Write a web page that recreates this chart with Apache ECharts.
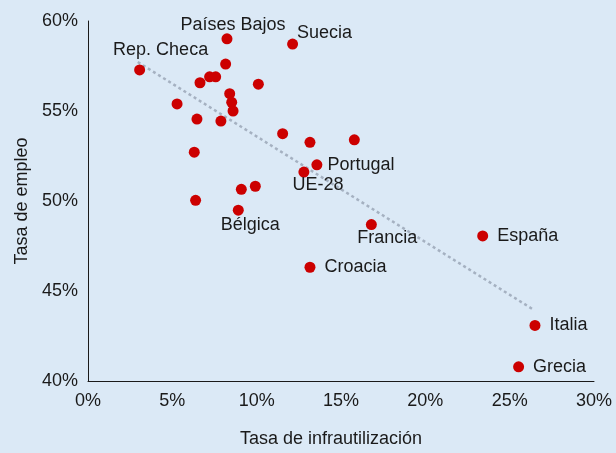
<!DOCTYPE html>
<html>
<head>
<meta charset="utf-8">
<script src="https://cdn.jsdelivr.net/npm/echarts@6/dist/echarts.min.js"></script>
<style>
html,body{margin:0;padding:0;background:#dbe9f6;}
#c{width:616px;height:453px;}
</style>
</head>
<body>
<div id="c"></div>
<script>
// Data (percent)
var countryNames = ["Rep. Checa","Países Bajos","Suecia","","","","","","","","","","","","","","","","Portugal","UE-28","","","","Bélgica","Francia","España","Croacia","Italia","Grecia"];
var underutil = [3.06,8.24,12.13,8.16,7.21,7.57,6.64,10.10,8.40,8.52,8.60,5.28,6.46,7.88,11.54,13.16,6.30,15.79,13.57,12.80,9.92,9.09,6.38,8.91,16.80,23.40,13.16,26.50,25.53];
var employment = [57.28,59.01,58.72,57.61,56.90,56.90,56.57,56.49,55.96,55.48,55.00,55.39,54.55,54.44,53.74,53.26,52.71,53.40,52.01,51.61,50.82,50.65,50.04,49.49,48.69,48.06,46.32,43.09,40.79];
var trendX = [2.95, 26.40];
var trendY = [57.72, 43.97];
var xTicks = [0,5,10,15,20,25,30];
var yTicks = [40,45,50,55,60];

// label placement (style only)
var labelStyle = {
  "Rep. Checa": {position:"top", offset:[21,0]},
  "Países Bajos": {position:"top", offset:[6,6]},
  "Suecia": {position:"right", offset:[-6,-11]},
  "Portugal": {position:"right", offset:[0,0]},
  "UE-28": {position:"bottom", offset:[14,-6]},
  "Bélgica": {position:"bottom", offset:[12,-5]},
  "Francia": {position:"bottom", offset:[16,-6]},
  "España": {position:"right", offset:[4,0]},
  "Croacia": {position:"right", offset:[4,0]},
  "Italia": {position:"right", offset:[4,0]},
  "Grecia": {position:"right", offset:[4,0]}
};

var FONT = "'Liberation Sans', Arial, Helvetica, sans-serif";
var FS = 18;
var pts = underutil.map(function(x,i){
  var n = countryNames[i];
  var p = {name:n, value:[x, employment[i]]};
  if (n && labelStyle[n]) {
    p.label = {show:true, formatter:n, position:labelStyle[n].position, offset:labelStyle[n].offset, distance:5,
      color:'#1a1a1a', fontSize:FS, fontFamily:FONT};
  }
  return p;
});

var chart = echarts.init(document.getElementById('c'), null, {renderer:'canvas'});
chart.setOption({
  backgroundColor:'#dbe9f6',
  animation:false,
  grid:{left:88, right:22, top:21, bottom:69},
  xAxis:{
    type:'value', min:xTicks[0], max:xTicks[xTicks.length-1], interval:5,
    name:'Tasa de infrautilización', nameLocation:'middle', nameGap:49,
    nameTextStyle:{color:'#1a1a1a', fontSize:FS, fontFamily:FONT, padding:[0,20,0,0]},
    axisLine:{show:true, onZero:false, lineStyle:{color:'#1a1a1a', width:1}},
    axisTick:{show:false},
    splitLine:{show:false},
    axisLabel:{color:'#1a1a1a', fontSize:FS, fontFamily:FONT, margin:11, formatter:function(v){return v+'%';}}
  },
  yAxis:{
    type:'value', min:yTicks[0], max:yTicks[yTicks.length-1], interval:5,
    name:'Tasa de empleo', nameLocation:'middle', nameGap:57,
    nameTextStyle:{color:'#1a1a1a', fontSize:FS, fontFamily:FONT, padding:[0,0,0,0]},
    axisLine:{show:true, onZero:false, lineStyle:{color:'#1a1a1a', width:1}},
    axisTick:{show:false},
    splitLine:{show:false},
    axisLabel:{color:'#1a1a1a', fontSize:FS, fontFamily:FONT, margin:10, formatter:function(v){return v+'%';}}
  },
  series:[
    {
      type:'line', data:trendX.map(function(x,i){return [x,trendY[i]];}),
      symbol:'none', silent:true, z:1,
      lineStyle:{color:'#a5b1c1', width:2.5, type:[3,3]}
    },
    {
      type:'scatter', data:pts, symbol:'circle', symbolSize:11, z:3,
      itemStyle:{color:'#cc0000', opacity:1}
    }
  ]
});
</script>
</body>
</html>
